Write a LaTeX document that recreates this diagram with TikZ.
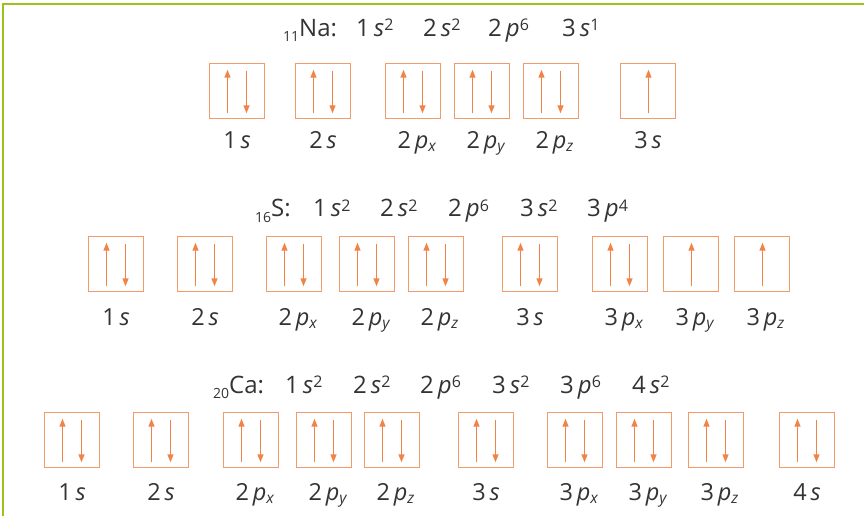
\documentclass[tikz,border=0pt]{standalone}
\usepackage{fontspec}
\setmainfont{Open Sans}
\usetikzlibrary{arrows.meta}
\definecolor{bordergreen}{HTML}{99C31C}
\definecolor{boxorange}{HTML}{F39A6A}
\definecolor{arroworange}{HTML}{F08448}
\definecolor{txt}{HTML}{333333}
\tikzset{
  orb/.style={draw=boxorange, line width=1.6pt, minimum width=55pt, minimum height=55pt, inner sep=0pt},
  spin/.style={draw=arroworange, line width=1.4pt, -{Triangle[width=6pt,length=8pt]}},
  lbl/.style={text=txt, font=\fontsize{23.5}{26}\selectfont, anchor=base, inner sep=0pt},
  ttl/.style={text=txt, font=\fontsize{24}{26}\selectfont, anchor=base west, inner sep=0pt},
  frame/.style={draw=bordergreen, line width=1.8pt},
}
\newcommand\lab[2]{#1\,\textit{#2}}
\newcommand\labsub[3]{#1\,\textit{#2}\rlap{\raisebox{-3pt}{\fontsize{15.5}{16}\selectfont\itshape #3}}}
\newcommand\term[3]{#1\,\textit{#2}\raisebox{5.5pt}{\fontsize{16}{16}\selectfont #3}}
\newcommand\elem[2]{\raisebox{-5.5pt}{\fontsize{14}{14}\selectfont #1}#2:}
\newcommand\pairbox[3]{%
  \node[orb] (#1) at (#2,#3) {};
  \draw[spin] ([xshift=-9.5pt,yshift=6pt]#1.south) -- ([xshift=-9.5pt,yshift=-7pt]#1.north);
  \draw[spin] ([xshift=9.5pt,yshift=-8pt]#1.north) -- ([xshift=9.5pt,yshift=6pt]#1.south);}
\newcommand\singlebox[3]{%
  \node[orb] (#1) at (#2,#3) {};
  \draw[spin] ([xshift=0.5pt,yshift=6pt]#1.south) -- ([xshift=0.5pt,yshift=-7pt]#1.north);}
\begin{document}
\begin{tikzpicture}[x=1pt,y=-1pt]
\useasboundingbox (0,0) rectangle (864,516);
% frame
\coordinate (fb) at (3,516);
\coordinate (fc) at (3,4);
\coordinate (fr) at (864,4);
\draw[frame] (fb) -- (fc) -- (fr);

% ---------- Na ----------
\node[ttl] (naT) at (283,36.5) {\elem{11}{Na}};
\node[ttl] (naT1) at (356,36.5) {\term{1}{s}{2}};
\node[ttl] (naT2) at (423,36.5) {\term{2}{s}{2}};
\node[ttl] (naT3) at (488,36.5) {\term{2}{p}{6}};
\node[ttl] (naT4) at (562,36.5) {\term{3}{s}{1}};
\pairbox{naA}{237}{91}
\pairbox{naB}{323}{91}
\pairbox{naC}{413}{91}
\pairbox{naD}{482}{91}
\pairbox{naE}{551}{91}
\singlebox{naF}{648}{91}
\node[lbl] (naAl) at (237,148) {\lab{1}{s}};
\node[lbl] (naBl) at (323,148) {\lab{2}{s}};
\node[lbl] (naCl) at (413,148) {\labsub{2}{p}{x}};
\node[lbl] (naDl) at (482,148) {\labsub{2}{p}{y}};
\node[lbl] (naEl) at (551,148) {\labsub{2}{p}{z}};
\node[lbl] (naFl) at (648,148) {\lab{3}{s}};

% ---------- S ----------
\node[ttl] (sT) at (255,216.5) {\elem{16}{S}};
\node[ttl] (sT1) at (313,216.5) {\term{1}{s}{2}};
\node[ttl] (sT2) at (380,216.5) {\term{2}{s}{2}};
\node[ttl] (sT3) at (448,216.5) {\term{2}{p}{6}};
\node[ttl] (sT4) at (520,216.5) {\term{3}{s}{2}};
\node[ttl] (sT5) at (587,216.5) {\term{3}{p}{4}};
\pairbox{sA}{116}{264}
\pairbox{sB}{205}{264}
\pairbox{sC}{294}{264}
\pairbox{sD}{367}{264}
\pairbox{sE}{436}{264}
\pairbox{sF}{530}{264}
\pairbox{sG}{620}{264}
\singlebox{sH}{691}{264}
\singlebox{sI}{762}{264}
\node[lbl] (sAl) at (116,325) {\lab{1}{s}};
\node[lbl] (sBl) at (205,325) {\lab{2}{s}};
\node[lbl] (sCl) at (294,325) {\labsub{2}{p}{x}};
\node[lbl] (sDl) at (367,325) {\labsub{2}{p}{y}};
\node[lbl] (sEl) at (436,325) {\labsub{2}{p}{z}};
\node[lbl] (sFl) at (530,325) {\lab{3}{s}};
\node[lbl] (sGl) at (620,325) {\labsub{3}{p}{x}};
\node[lbl] (sHl) at (691,325) {\labsub{3}{p}{y}};
\node[lbl] (sIl) at (762,325) {\labsub{3}{p}{z}};

% ---------- Ca ----------
\node[ttl] (caT) at (213,393) {\elem{20}{Ca}};
\node[ttl] (caT1) at (285,393) {\term{1}{s}{2}};
\node[ttl] (caT2) at (353,393) {\term{2}{s}{2}};
\node[ttl] (caT3) at (420,393) {\term{2}{p}{6}};
\node[ttl] (caT4) at (492,393) {\term{3}{s}{2}};
\node[ttl] (caT5) at (560,393) {\term{3}{p}{6}};
\node[ttl] (caT6) at (632,393) {\term{4}{s}{2}};
\pairbox{caA}{72}{440}
\pairbox{caB}{161}{440}
\pairbox{caC}{251}{440}
\pairbox{caD}{324}{440}
\pairbox{caE}{392}{440}
\pairbox{caF}{486}{440}
\pairbox{caG}{575}{440}
\pairbox{caH}{644}{440}
\pairbox{caI}{716}{440}
\pairbox{caJ}{807}{440}
\node[lbl] (caAl) at (72,500) {\lab{1}{s}};
\node[lbl] (caBl) at (161,500) {\lab{2}{s}};
\node[lbl] (caCl) at (251,500) {\labsub{2}{p}{x}};
\node[lbl] (caDl) at (324,500) {\labsub{2}{p}{y}};
\node[lbl] (caEl) at (392,500) {\labsub{2}{p}{z}};
\node[lbl] (caFl) at (486,500) {\lab{3}{s}};
\node[lbl] (caGl) at (575,500) {\labsub{3}{p}{x}};
\node[lbl] (caHl) at (644,500) {\labsub{3}{p}{y}};
\node[lbl] (caIl) at (716,500) {\labsub{3}{p}{z}};
\node[lbl] (caJl) at (807,500) {\lab{4}{s}};
\end{tikzpicture}
\end{document}
